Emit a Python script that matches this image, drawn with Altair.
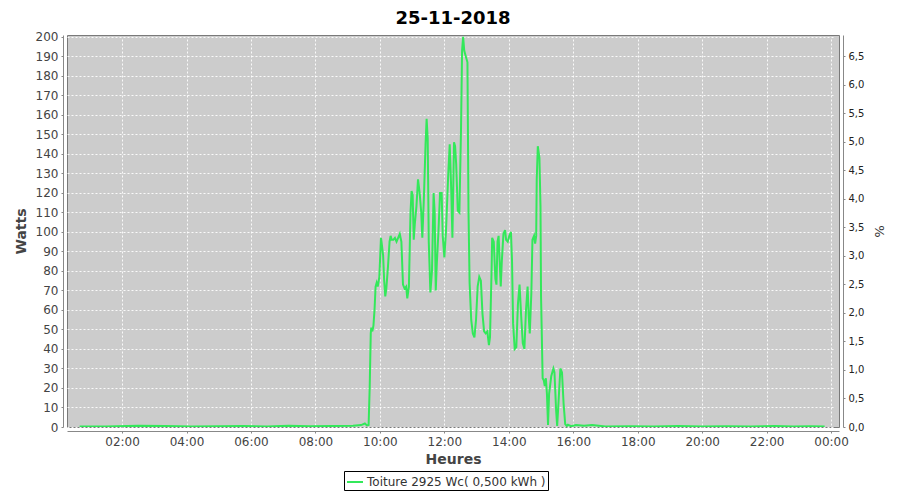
import altair as alt
import pandas as pd

# ---- data ----
times = [
    "00:41", "01:30", "02:30", "03:20", "04:10", "05:00", "05:45", "06:30", "07:10", "07:50",
    "08:30", "09:10", "09:25", "09:32", "09:36", "09:39",
    "09:41", "09:43", "09:44", "09:46", "09:48", "09:50", "09:52", "09:54", "09:56", "09:59",
    "10:02", "10:03", "10:06", "10:08", "10:10", "10:12", "10:15", "10:18", "10:20", "10:22",
    "10:25", "10:28", "10:31", "10:34", "10:37", "10:40", "10:43", "10:46", "10:49", "10:51",
    "10:54", "10:57", "10:59", "11:01", "11:03", "11:05", "11:08", "11:11", "11:14", "11:17",
    "11:19", "11:22", "11:25", "11:27", "11:29", "11:31", "11:34", "11:37", "11:40", "11:42",
    "11:44", "11:46", "11:49", "11:52", "11:55", "11:57", "12:00", "12:03", "12:07", "12:10",
    "12:13", "12:15", "12:18", "12:20", "12:22", "12:25", "12:28", "12:31", "12:33", "12:35",
    "12:37", "12:40", "12:43", "12:45", "12:47", "12:50", "12:53", "12:56", "12:59", "13:02",
    "13:05", "13:08", "13:11", "13:14", "13:17", "13:20", "13:23", "13:25", "13:28", "13:29",
    "13:32", "13:35", "13:37", "13:39", "13:41", "13:43", "13:45", "13:47", "13:50", "13:53",
    "13:55", "13:58", "14:01", "14:04", "14:06", "14:08", "14:11", "14:14", "14:17", "14:20",
    "14:23", "14:26", "14:29", "14:32", "14:35", "14:37", "14:39", "14:42", "14:44", "14:47",
    "14:49", "14:51", "14:52", "14:54", "14:57", "14:59", "15:00", "15:03", "15:05", "15:07",
    "15:09", "15:11", "15:13", "15:15", "15:19", "15:23", "15:25", "15:28", "15:30", "15:33",
    "15:36", "15:39", "15:42", "15:45", "15:48", "15:50", "15:56", "16:05", "16:20", "16:35",
    "17:00", "17:45", "18:30", "19:15", "20:00", "20:45", "21:30", "22:15", "22:50", "23:20",
    "23:48",
]
watts = [
    0.3, 0.2, 0.6, 0.5, 0.3, 0.4, 0.5, 0.3, 0.6, 0.4,
    0.5, 0.6, 1.0, 1.8, 0.8, 1.0,
    20, 48, 51, 49, 52, 60, 72, 74, 72, 77,
    97, 95, 88, 75, 67, 71, 82, 95, 98, 96,
    96, 97, 95, 97, 99, 95, 73, 71, 72, 66,
    72, 110, 121, 119, 96, 104, 113, 127, 120, 110,
    97, 118, 145, 158, 148, 95, 69, 80, 120, 110,
    70, 84, 100, 120, 120, 98, 87, 100, 128, 145,
    120, 97, 146, 144, 135, 111, 110, 152, 193, 200,
    193, 190, 187, 110, 74, 55, 48, 46, 55, 72,
    77, 75, 58, 49, 48, 49, 42, 46, 81, 97,
    95, 76, 73, 95, 98, 85, 72, 85, 99, 101,
    96, 95, 98, 100, 85, 53, 40, 41, 63, 73,
    57, 43, 40, 60, 72, 57, 48, 69, 96, 98,
    94, 98, 127, 144, 138, 113, 67, 25, 24, 21,
    25, 17, 1, 17, 26, 30, 28, 9, 0.5, 15,
    30, 28, 12, 1.5, 0.5, 1.2, 0.4, 1.0, 0.6, 1.0,
    0.3, 0.4, 0.3, 0.5, 0.3, 0.4, 0.3, 0.5, 0.3, 0.4,
    0.3,
]
series_name = "Toiture 2925 Wc( 0,500 kWh )"
peak_power = 2925  # Wc -> percentage axis
x_ticks = [2, 4, 6, 8, 10, 12, 14, 16, 18, 20, 22, 24]
y_ticks = list(range(0, 201, 10))
pct_ticks = [i / 2 for i in range(0, 14)]

df = pd.DataFrame({"time": times, "w": watts})
df["h"] = df["time"].map(lambda t: int(t[:2]) + int(t[3:]) / 60)
df["pct"] = df["w"] / peak_power * 100
df["serie"] = series_name

GREEN = "#33E85A"
FONT = "DejaVu Sans"
x_dom = [0.292, 24.245]
y_max = 201

x_enc = alt.X(
    "h:Q",
    scale=alt.Scale(domain=x_dom, nice=False, zero=False),
    axis=alt.Axis(
        values=x_ticks,
        labelExpr="(datum.value % 24 < 10 ? '0' : '') + (datum.value % 24) + ':00'",
        title="Heures",
        grid=True,
    ),
)

line = alt.Chart(df).mark_line(strokeWidth=2, clip=True).encode(
    x=x_enc,
    y=alt.Y(
        "w:Q",
        scale=alt.Scale(domain=[0, y_max], nice=False),
        axis=alt.Axis(values=y_ticks, title="Watts", grid=True, orient="left", titlePadding=7),
    ),
    color=alt.Color(
        "serie:N",
        scale=alt.Scale(range=[GREEN]),
        legend=alt.Legend(
            title=None,
            orient="none",
            legendX=277,
            legendY=436,
            strokeColor="black",
            fillColor="white",
            padding=2,
            cornerRadius=0,
            symbolType="stroke",
            symbolSize=256,
            symbolStrokeWidth=2,
            labelFontSize=12,
            labelFont=FONT,
            labelColor="#333333",
            labelOffset=3,
            labelLimit=400,
        ),
    ),
)

right = alt.Chart(df).mark_line(opacity=0).encode(
    x=alt.X("h:Q", scale=alt.Scale(domain=x_dom, nice=False, zero=False)),
    y=alt.Y(
        "pct:Q",
        scale=alt.Scale(domain=[0, y_max / peak_power * 100], nice=False),
        axis=alt.Axis(
            values=pct_ticks,
            orient="right",
            title="%",
            grid=False,
            labelExpr="replace(format(datum.value, '.1f'), '.', ',')",
            labelFontSize=10,
            labelColor="#222222",
            titleFontWeight="normal",
            titleFontSize=13,
            titleColor="#333333",
            titlePadding=8,
        ),
    ),
)

chart = (
    alt.layer(line, right)
    .resolve_scale(y="independent")
    .properties(
        width=772,
        height=392,
        title=alt.TitleParams(
            "25-11-2018", fontSize=18, font=FONT, fontWeight="bold", color="black", offset=3
        ),
        padding={"left": 59, "top": 27, "right": 53, "bottom": 65},
        autosize=alt.AutoSizeParams(type="none"),
    )
    .configure_view(fill="#CCCCCC", stroke="#7A7A7A", strokeWidth=1)
    .configure_axis(
        domainColor="#888888",
        tickColor="#888888",
        tickSize=2,
        offset=4,
        labelFont=FONT,
        labelFontSize=12,
        labelColor="#444444",
        labelPadding=3,
        titleFont=FONT,
        titleFontSize=14,
        titleFontWeight="bold",
        titleColor="#444444",
        gridColor="white",
        gridDash=[2, 2],
        gridWidth=1,
        gridOpacity=0.9,
    )
    .configure_axisX(titlePadding=5)
)

chart.save("out.html", embed_options={"renderer": "svg", "actions": False})
